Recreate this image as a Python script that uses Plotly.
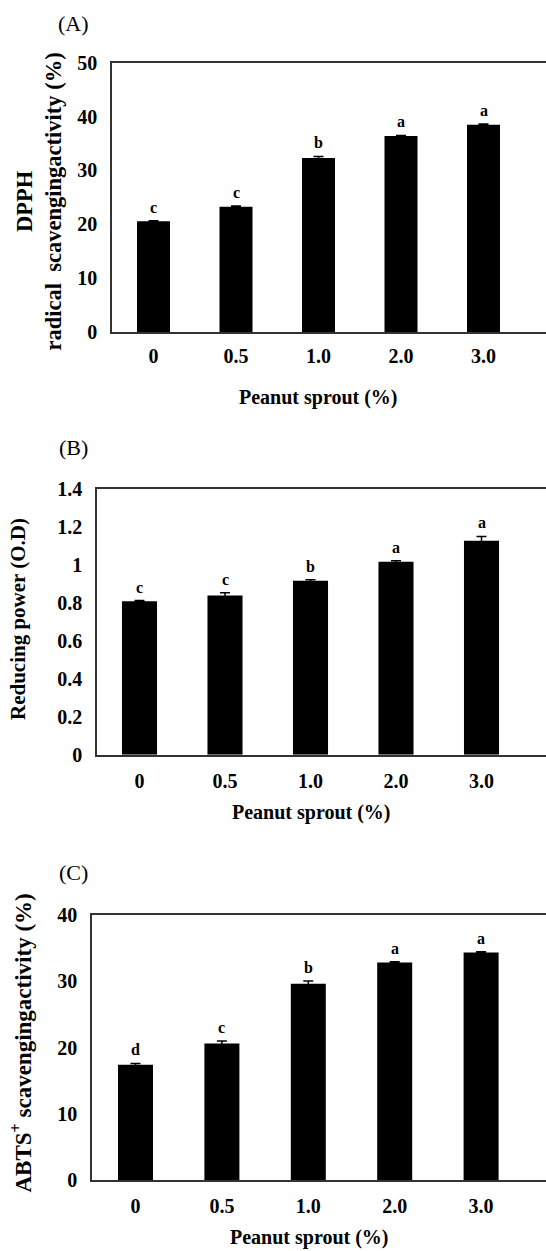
import plotly.graph_objects as go

# ---- data ----
categories = ["0", "0.5", "1.0", "2.0", "3.0"]

dpph = [20.6, 23.3, 32.3, 36.4, 38.5]
dpph_err = [0.1, 0.1, 0.3, 0.1, 0.1]
dpph_letters = ["c", "c", "b", "a", "a"]

reducing = [0.809, 0.840, 0.917, 1.017, 1.128]
reducing_err = [0.004, 0.014, 0.006, 0.006, 0.023]
reducing_letters = ["c", "c", "b", "a", "a"]

abts = [17.4, 20.6, 29.6, 32.8, 34.3]
abts_err = [0.2, 0.4, 0.4, 0.1, 0.1]
abts_letters = ["d", "c", "b", "a", "a"]

panel_labels = ["(A)", "(B)", "(C)"]
x_title = "Peanut sprout (%)"
y_titles = ["DPPH<br>radical  scavengingactivity (%)",
            "Reducing power (O.D)",
            "ABTS<sup>+</sup> scavengingactivity (%)"]

W, H = 546, 1251
FONT = "Liberation Serif"
LINE = "#333333"

# vertical placement correction (observed page scaling in the viewer)
SY, OFF = 0.9835, 10.5


def py(y):
    """target pixel row -> paper fraction"""
    return 1 - (y / SY - OFF) / H


fig = go.Figure()

panels = [
    dict(vals=dpph, err=dpph_err, let=dpph_letters, left=112, top=62, bottom=332,
         c0=153.5, step=82.5, bw=0.40, yr=[0, 50], dt=10, xs=5),
    dict(vals=reducing, err=reducing_err, let=reducing_letters, left=97, top=489, bottom=755,
         c0=139.5, step=85.5, bw=0.41, yr=[0, 1.4], dt=0.2, xs=7),
    dict(vals=abts, err=abts_err, let=abts_letters, left=92, top=915, bottom=1181,
         c0=135.5, step=86.4, bw=0.405, yr=[0, 40], dt=10, xs=7),
]

ytitle_pos = [(39, 201), (18, 619), (22, 1044)]
ytitle_size = [22.5, 21, 23]
label_pos = [(73, 23), (73, 447), (73, 873)]
xtitle_pos = [(318, 397), (311, 813), (309, 1238)]

annotations = []
for i, p in enumerate(panels):
    n = "" if i == 0 else str(i + 1)
    xa, ya = "x" + n, "y" + n
    fig.add_trace(go.Bar(
        x=categories, y=p["vals"], width=p["bw"],
        marker=dict(color="black", line=dict(width=0)),
        error_y=dict(type="data", array=p["err"], visible=True,
                     color="black", thickness=1.5, width=5),
        xaxis=xa, yaxis=ya, showlegend=False,
    ))
    rng = [-(p["c0"] - p["left"]) / p["step"], (W - p["c0"]) / p["step"]]
    fig.layout["xaxis" + n] = dict(
        domain=[p["left"] / W, 1.0], anchor=ya, type="category", range=rng,
        showline=True, linecolor=LINE, linewidth=1.5, mirror=True,
        ticks="", showgrid=False, zeroline=False,
        tickfont=dict(family=FONT, size=20, color="black", weight="bold"),
        ticklabelstandoff=p["xs"],
    )
    fig.layout["yaxis" + n] = dict(
        domain=[py(p["bottom"]), py(p["top"])], anchor=xa,
        range=p["yr"], dtick=p["dt"], tick0=0,
        showline=True, linecolor=LINE, linewidth=1.5, mirror=False,
        ticks="", showgrid=False, zeroline=False,
        tickfont=dict(family=FONT, size=20, color="black", weight="bold"),
        ticklabelstandoff=9,
    )
    for k, (v, e, l) in enumerate(zip(p["vals"], p["err"], p["let"])):
        annotations.append(dict(
            x=k, y=v + e, xref=xa, yref=ya, text=l, showarrow=False,
            yanchor="bottom", yshift=3,
            font=dict(family=FONT, size=16, color="black", weight="bold"),
        ))
    tx, ty = ytitle_pos[i]
    annotations.append(dict(
        x=tx / W, y=py(ty), xref="paper", yref="paper", text=y_titles[i],
        textangle=-90, showarrow=False, xanchor="center", yanchor="middle",
        font=dict(family=FONT, size=ytitle_size[i], color="black", weight="bold"),
    ))
    lx, ly = label_pos[i]
    annotations.append(dict(
        x=lx / W, y=py(ly), xref="paper", yref="paper", text=panel_labels[i],
        showarrow=False, xanchor="center", yanchor="middle",
        font=dict(family=FONT, size=22, color="black"),
    ))
    gx, gy = xtitle_pos[i]
    annotations.append(dict(
        x=gx / W, y=py(gy), xref="paper", yref="paper", text=x_title,
        showarrow=False, xanchor="center", yanchor="middle",
        font=dict(family=FONT, size=20, color="black", weight="bold"),
    ))

fig.update_layout(
    width=W, height=H,
    margin=dict(l=0, r=0, t=0, b=0),
    paper_bgcolor="white", plot_bgcolor="white",
    annotations=annotations,
    showlegend=False,
)

post = ("document.body.style.margin='0';"
        "document.body.style.overflow='hidden';"
        "var gd=document.getElementById('{plot_id}');"
        "gd.style.position='fixed';gd.style.top='0px';gd.style.left='0px';")

fig.write_html("out.html", config={"displayModeBar": False}, post_script=post)
